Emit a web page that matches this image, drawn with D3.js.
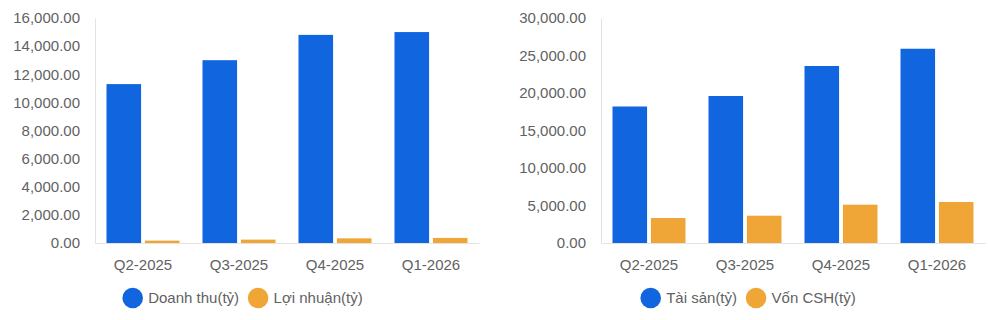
<!DOCTYPE html>
<html>
<head>
<meta charset="utf-8">
<script src="https://cdn.jsdelivr.net/npm/d3@7"></script>
<style>
  html, body { margin: 0; padding: 0; background: #ffffff; }
  svg { display: block; }
  text { font-family: "Liberation Sans", Arial, sans-serif; }
</style>
</head>
<body>
<svg id="chart" width="988" height="320"></svg>
<script>
// ---- Data ----
const categories = ["Q2-2025", "Q3-2025", "Q4-2025", "Q1-2026"];

const leftSeriesNames = ["Doanh thu(tỷ)", "Lợi nhuận(tỷ)"];
const doanhThu = [11300, 13000, 14800, 15000];
const loiNhuan = [170, 240, 330, 360];
const leftTicks = [0, 2000, 4000, 6000, 8000, 10000, 12000, 14000, 16000];

const rightSeriesNames = ["Tài sản(tỷ)", "Vốn CSH(tỷ)"];
const taiSan = [18200, 19600, 23600, 25900];
const vonCSH = [3330, 3640, 5110, 5470];
const rightTicks = [0, 5000, 10000, 15000, 20000, 25000, 30000];

const colors = ["#1166e0", "#f0a637"];

// ---- Drawing ----
const svg = d3.select("#chart");
const fmt = d3.format(",.2f");
const textColor = "#626262";
const axisColor = "#e3e3e3";
const fontSize = "15px";

function drawPanel(cfg) {
  const g = svg.append("g");
  const x0 = d3.scaleBand().domain(categories)
    .range([cfg.x0, cfg.x1]).paddingInner(23 / 96).paddingOuter(11.5 / 96);
  const x1 = d3.scaleBand().domain([0, 1]).range([0, x0.bandwidth()]).paddingInner(0.1);
  const y = d3.scaleLinear().domain([0, cfg.max]).range([243, 18]);

  // y axis
  const yAxis = g.append("g").attr("transform", `translate(${cfg.x0},0)`)
    .call(d3.axisLeft(y).tickValues(cfg.ticks).tickFormat(fmt).tickSize(0).tickPadding(15));
  yAxis.select(".domain").attr("stroke", axisColor);
  yAxis.selectAll("text").attr("fill", textColor).style("font-size", fontSize);

  // bars
  const series = [cfg.a, cfg.b];
  categories.forEach((c, i) => {
    series.forEach((s, k) => {
      g.append("rect")
        .attr("x", x0(c) + x1(k))
        .attr("width", x1.bandwidth())
        .attr("y", y(s[i]))
        .attr("height", y(0) - y(s[i]))
        .attr("fill", colors[k]);
    });
  });

  // x axis
  const xAxis = g.append("g").attr("transform", `translate(0,${y(0)})`)
    .call(d3.axisBottom(x0).tickSize(0).tickPadding(16));
  xAxis.select(".domain").attr("stroke", axisColor);
  xAxis.selectAll("text").attr("fill", textColor).style("font-size", fontSize);

  // legend
  const lg = g.append("g").attr("transform", "translate(0,298)");
  let cx = cfg.legendX;
  cfg.names.forEach((n, k) => {
    lg.append("circle").attr("cx", cx).attr("cy", 0).attr("r", 10.3).attr("fill", colors[k]);
    const t = lg.append("text").attr("x", cx + 15.5).attr("y", 0).attr("dy", "0.35em")
      .attr("fill", textColor).style("font-size", fontSize).text(n);
    const w = t.node().getComputedTextLength();
    cx = cx + 15.5 + w + 19;
  });
}

drawPanel({ x0: 95, x1: 479, max: 16000, ticks: leftTicks, a: doanhThu, b: loiNhuan,
  names: leftSeriesNames, legendX: 132.7 });
drawPanel({ x0: 601, x1: 985, max: 30000, ticks: rightTicks, a: taiSan, b: vonCSH,
  names: rightSeriesNames, legendX: 650.7 });
</script>
</body>
</html>
